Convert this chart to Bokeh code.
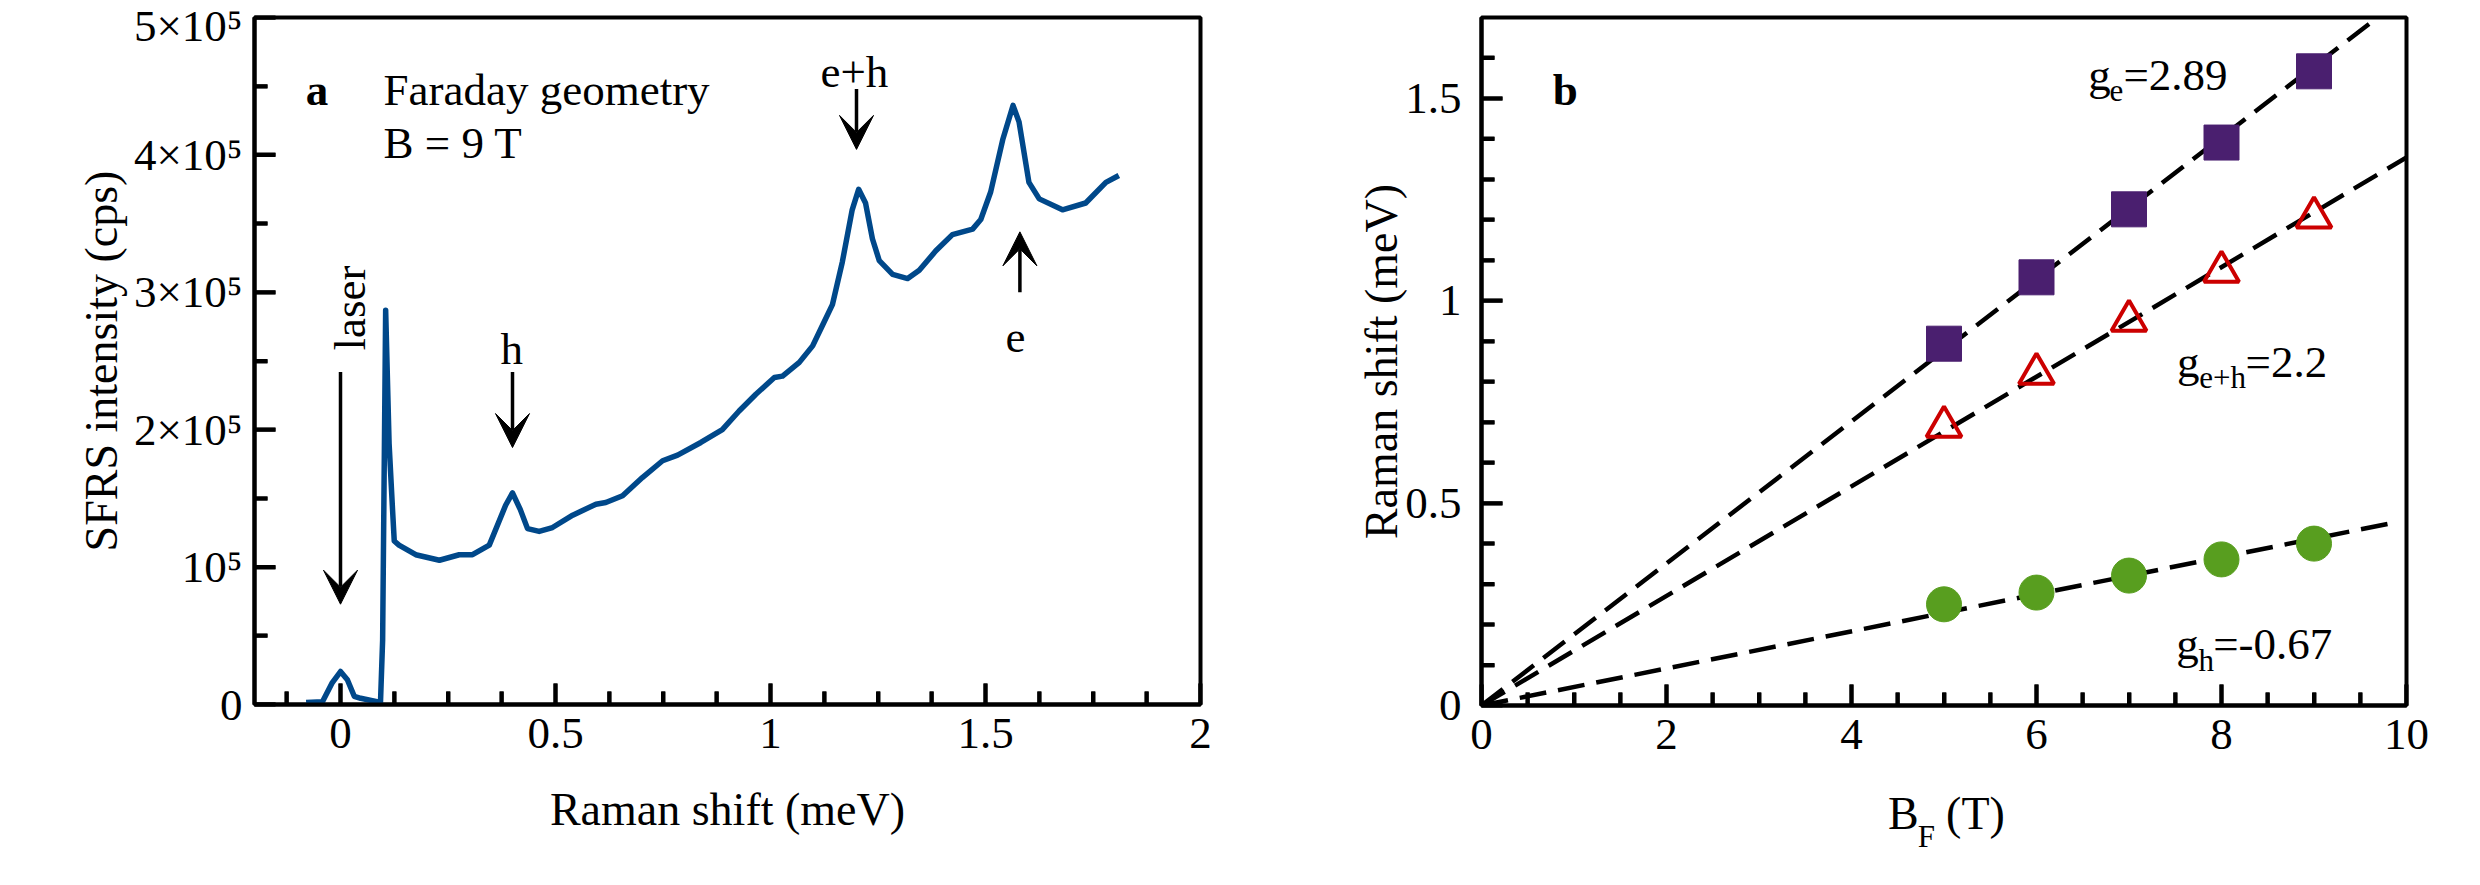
import math
from bokeh.plotting import figure
from bokeh.layouts import row
from bokeh.models import (Range1d, FixedTicker, NumeralTickFormatter,
                          Label, Arrow, VeeHead, LinearAxis)
from bokeh.embed import file_html
from bokeh.resources import INLINE

FONT = "Liberation Serif"

# ---------------- Panel a: SFRS spectrum ----------------
shift_meV = [-0.080, -0.042, -0.019, 0.000, 0.016, 0.032, 0.047, 0.093, 0.098, 0.105,
             0.113, 0.121, 0.125, 0.136, 0.175, 0.230, 0.276, 0.307, 0.346, 0.384,
             0.400, 0.418, 0.435, 0.462, 0.493, 0.540, 0.594, 0.617, 0.656, 0.702,
             0.749, 0.784, 0.838, 0.888, 0.927, 0.966, 1.009, 1.028, 1.067, 1.098,
             1.121, 1.144, 1.167, 1.190, 1.205, 1.221, 1.237, 1.253, 1.284, 1.319,
             1.346, 1.384, 1.423, 1.470, 1.489, 1.512, 1.540, 1.564, 1.578, 1.601,
             1.625, 1.679, 1.733, 1.780, 1.810]
intensity_cps = [0.015e5, 0.020e5, 0.160e5, 0.240e5, 0.180e5, 0.060e5, 0.045e5, 0.015e5, 0.470e5, 2.870e5,
                 1.900e5, 1.420e5, 1.190e5, 1.160e5, 1.090e5, 1.050e5, 1.090e5, 1.090e5, 1.160e5, 1.450e5,
                 1.540e5, 1.420e5, 1.280e5, 1.260e5, 1.288e5, 1.378e5, 1.458e5, 1.470e5, 1.519e5, 1.652e5,
                 1.774e5, 1.815e5, 1.907e5, 2.000e5, 2.136e5, 2.258e5, 2.380e5, 2.390e5, 2.490e5, 2.610e5,
                 2.760e5, 2.910e5, 3.220e5, 3.600e5, 3.750e5, 3.650e5, 3.390e5, 3.230e5, 3.130e5, 3.100e5,
                 3.160e5, 3.300e5, 3.420e5, 3.460e5, 3.530e5, 3.730e5, 4.110e5, 4.360e5, 4.240e5, 3.800e5,
                 3.680e5, 3.600e5, 3.650e5, 3.800e5, 3.850e5]

a_xtick_major = [0.0, 0.5, 1.0, 1.5, 2.0]
a_xtick_minor = [-0.125, 0.125, 0.25, 0.375, 0.625, 0.75, 0.875, 1.125, 1.25, 1.375,
                 1.625, 1.75, 1.875]
a_ytick_major = [0, 100000, 200000, 300000, 400000, 500000]
a_ytick_labels = ["0", "10\u2075", "2\u00d710\u2075", "3\u00d710\u2075", "4\u00d710\u2075", "5\u00d710\u2075"]
a_ytick_minor = [50000, 150000, 250000, 350000, 450000]

arrow_x = [0.0, 0.40, 1.20, 1.58]
arrow_y_start = [2.42e5, 2.42e5, 4.48e5, 3.00e5]
arrow_y_end = [0.73e5, 1.87e5, 4.04e5, 3.44e5]
peak_labels = ["h", "e+h", "e"]
peak_label_x = [0.398, 1.195, 1.570]
peak_label_y = [2.584e5, 4.60e5, 2.671e5]

# ---------------- Panel b: Zeeman fan ----------------
field_T = [5, 6, 7, 8, 9]
shift_e = [0.894, 1.058, 1.226, 1.391, 1.567]
shift_eh = [0.689, 0.820, 0.951, 1.072, 1.206]
shift_h = [0.250, 0.279, 0.321, 0.361, 0.400]
fit_slopes = [0.1755, 0.1354, 0.0458]   # meV / T  (e, e+h, h)
fit_end_T = [9.6, 10.0, 9.83]

b_xtick_major = [0, 2, 4, 6, 8, 10]
b_xtick_minor = [0.5, 1.0, 1.5, 2.5, 3.0, 3.5, 4.5, 5.0, 5.5, 6.5, 7.0, 7.5, 8.5, 9.0, 9.5]
b_ytick_major = [0.0, 0.5, 1.0, 1.5]
b_ytick_minor = [0.1, 0.2, 0.3, 0.4, 0.6, 0.7, 0.8, 0.9, 1.1, 1.2, 1.3, 1.4, 1.6]

TXT = "45px"
SUB = "31px"
MAJOR_PX, MINOR_PX = 21, 13
TICK_W = 4


def style(p):
    p.xgrid.visible = False
    p.ygrid.visible = False
    p.outline_line_color = "black"
    p.outline_line_width = 4
    p.background_fill_color = "white"
    p.border_fill_color = "white"
    for ax in (p.xaxis[0], p.yaxis[0]):
        ax.axis_line_width = 4
        ax.axis_line_color = "black"
        ax.major_tick_in = MAJOR_PX
        ax.major_tick_out = 0
        ax.minor_tick_in = MINOR_PX
        ax.minor_tick_out = 0
        ax.major_tick_line_width = TICK_W
        ax.minor_tick_line_width = TICK_W
        ax.major_label_text_font = FONT
        ax.major_label_text_font_size = TXT
        ax.major_label_text_color = "black"
        ax.axis_label_text_font = FONT
        ax.axis_label_text_font_size = "46px"
        ax.axis_label_text_font_style = "normal"
        ax.axis_label_text_color = "black"


def inward_ticks(p, xmaj, xmin, ymaj, ymin, xr, yr, fw, fh):
    """Inward tick marks on the bottom and left frame edges, as head-less arrows."""
    dx = (xr[1] - xr[0]) / fw   # data units per screen pixel
    dy = (yr[1] - yr[0]) / fh
    for ticks, L in ((xmaj, MAJOR_PX), (xmin, MINOR_PX)):
        for t in ticks:
            p.add_layout(Arrow(end=None, x_start=t, y_start=yr[0], x_end=t, y_end=yr[0] + L * dy,
                               line_color="black", line_width=TICK_W))
    for ticks, L in ((ymaj, MAJOR_PX), (ymin, MINOR_PX)):
        for t in ticks:
            p.add_layout(Arrow(end=None, x_start=xr[0], y_start=t, x_end=xr[0] + L * dx, y_end=t,
                               line_color="black", line_width=TICK_W))


def lab(p, x, y, text, size=TXT, align="left", style_="normal", angle=0.0):
    p.add_layout(Label(x=x, y=y, text=text, text_font=FONT, text_font_size=size,
                       text_font_style=style_, text_color="black", text_align=align,
                       text_baseline="alphabetic", angle=angle))


# ---- figure a
A_XR, A_YR, A_FW, A_FH = (-0.2, 2.0), (0, 5e5), 946, 687
p1 = figure(frame_width=A_FW, frame_height=A_FH, min_border_left=254, min_border_right=32,
            min_border_top=17, min_border_bottom=150,
            x_range=Range1d(*A_XR), y_range=Range1d(*A_YR),
            output_backend="svg", toolbar_location=None)
style(p1)
p1.xaxis.ticker = FixedTicker(ticks=a_xtick_major, minor_ticks=a_xtick_minor)
p1.xaxis.formatter = NumeralTickFormatter(format="0.[0]")
p1.yaxis.ticker = FixedTicker(ticks=a_ytick_major, minor_ticks=a_ytick_minor)
p1.yaxis.major_label_overrides = {v: t for v, t in zip(a_ytick_major, a_ytick_labels)}
p1.xaxis.axis_label = "Raman shift (meV)"
p1.yaxis.axis_label = "SFRS intensity (cps)"
p1.xaxis.major_label_standoff = 14
p1.xaxis.axis_label_standoff = 33
p1.yaxis.major_label_standoff = 12
p1.yaxis.axis_label_standoff = 4

p1.line(shift_meV, intensity_cps, line_color="#00488a", line_width=5.5, line_join="round")

for xs, ys, ye in zip(arrow_x, arrow_y_start, arrow_y_end):
    p1.add_layout(Arrow(end=VeeHead(size=34, fill_color="black", line_color="black", line_width=1),
                        x_start=xs, y_start=ys, x_end=xs, y_end=ye,
                        line_color="black", line_width=3.5))
for t, x, y in zip(peak_labels, peak_label_x, peak_label_y):
    lab(p1, x, y, t, align="center")
lab(p1, 0.021, 2.576e5, "laser", angle=math.pi / 2)
lab(p1, -0.081, 4.469e5, "a", style_="bold")
lab(p1, 0.100, 4.469e5, "Faraday geometry")
lab(p1, 0.100, 4.09e5, "B = 9 T")
inward_ticks(p1, a_xtick_major, a_xtick_minor, a_ytick_major, a_ytick_minor, A_XR, A_YR, A_FW, A_FH)

# ---- figure b
B_XR, B_YR, B_FW, B_FH = (0, 10), (0, 1.7), 925, 688
p2 = figure(frame_width=B_FW, frame_height=B_FH, min_border_left=249, min_border_right=58,
            min_border_top=17, min_border_bottom=150,
            x_range=Range1d(*B_XR), y_range=Range1d(*B_YR),
            output_backend="svg", toolbar_location=None)
style(p2)
p2.xaxis.ticker = FixedTicker(ticks=b_xtick_major, minor_ticks=b_xtick_minor)
p2.yaxis.ticker = FixedTicker(ticks=b_ytick_major, minor_ticks=b_ytick_minor)
p2.yaxis.formatter = NumeralTickFormatter(format="0.[0]")
p2.yaxis.axis_label = "Raman shift (meV)"
p2.xaxis.major_label_standoff = 14
p2.yaxis.major_label_standoff = 20
p2.yaxis.axis_label_standoff = -5

# x-axis title "B_F (T)" as two label-only axes (main text, then raised subscript)
b_title_pos = [4.56, 5.34]
b_title_txt = ["B", "(T)"]
b_sub_pos = [4.81]
b_sub_txt = ["F"]
ax_title = LinearAxis(ticker=FixedTicker(ticks=b_title_pos),
                      major_label_overrides={v: t for v, t in zip(b_title_pos, b_title_txt)},
                      axis_line_color=None, major_tick_line_color=None, minor_tick_line_color=None,
                      major_tick_out=0, minor_tick_out=0, major_label_standoff=36,
                      major_label_text_font=FONT, major_label_text_font_size="46px",
                      major_label_text_color="black")
ax_sub = LinearAxis(ticker=FixedTicker(ticks=b_sub_pos),
                    major_label_overrides={v: t for v, t in zip(b_sub_pos, b_sub_txt)},
                    axis_line_color=None, major_tick_line_color=None, minor_tick_line_color=None,
                    major_tick_out=0, minor_tick_out=0, major_label_standoff=-23,
                    major_label_text_font=FONT, major_label_text_font_size=SUB,
                    major_label_text_color="black")
p2.add_layout(ax_title, "below")
p2.add_layout(ax_sub, "below")

for slope, xe in zip(fit_slopes, fit_end_T):
    p2.line([0, xe], [0, slope * xe], line_color="black", line_width=4.5, line_dash="27 12")

p2.scatter(field_T, shift_e, marker="square", size=35, fill_color="#4a1f6f", line_color="#4a1f6f")
p2.scatter(field_T, shift_eh, marker="triangle", size=35, fill_color="white", fill_alpha=0,
           line_color="#cc0000", line_width=4)
p2.scatter(field_T, shift_h, marker="circle", size=35, fill_color="#589e1f", line_color="#589e1f")

lab(p2, 0.77, 1.52, "b", style_="bold")
lab(p2, 6.56, 1.559, "g")
lab(p2, 6.79, 1.520, "e", size=SUB)
lab(p2, 6.94, 1.559, "=2.89")
lab(p2, 7.52, 0.850, "g")
lab(p2, 7.76, 0.810, "e+h", size=SUB)
lab(p2, 8.26, 0.850, "=2.2")
lab(p2, 7.51, 0.153, "g")
lab(p2, 7.75, 0.111, "h", size=SUB)
lab(p2, 7.91, 0.153, "=-0.67")
inward_ticks(p2, b_xtick_major, b_xtick_minor, b_ytick_major, b_ytick_minor, B_XR, B_YR, B_FW, B_FH)

layout = row(p1, p2)
open("out.html", "w").write(file_html(layout, INLINE))
